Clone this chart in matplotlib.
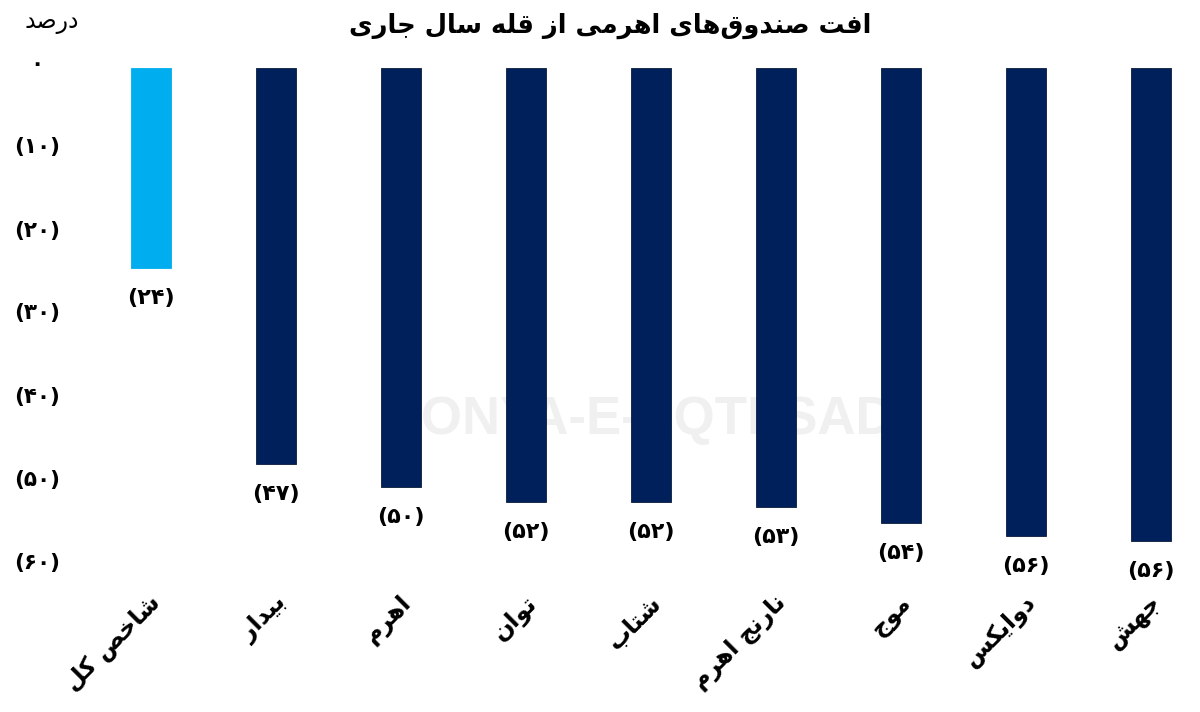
import matplotlib
matplotlib.use("Agg")
import matplotlib.pyplot as plt
from matplotlib import font_manager, ft2font
from matplotlib.font_manager import FontProperties
import matplotlib.patheffects as pe

# ---------------- data ----------------
categories = ["شاخص کل", "بیدار", "اهرم", "توان", "شتاب", "نارنج اهرم", "موج", "دوایکس", "جهش"]
values = [24.1, 47.8, 50.5, 52.3, 52.3, 53.0, 54.9, 56.5, 57.1]   # drawdown, percent
value_labels = [24, 47, 50, 52, 52, 53, 54, 56, 56]
yticks = [0, 10, 20, 30, 40, 50, 60]
title = "افت صندوق‌های اهرمی از قله سال جاری"
unit_label = "درصد"
bar_colors = ["#00AEEF"] + ["#00205B"] * 8
edge_colors = ["#00AEEF"] + ["#0a1a3a"] * 8

# ---------------- minimal Persian shaping ----------------
# (isolated, final, initial, medial)
FORMS = {
    'ا': ('\uFE8D', '\uFE8E', None, None),
    'آ': ('\uFE81', '\uFE82', None, None),
    'ب': ('\uFE8F', '\uFE90', '\uFE91', '\uFE92'),
    'پ': ('\uFB56', '\uFB57', '\uFB58', '\uFB59'),
    'ت': ('\uFE95', '\uFE96', '\uFE97', '\uFE98'),
    'ث': ('\uFE99', '\uFE9A', '\uFE9B', '\uFE9C'),
    'ج': ('\uFE9D', '\uFE9E', '\uFE9F', '\uFEA0'),
    'چ': ('\uFB7A', '\uFB7B', '\uFB7C', '\uFB7D'),
    'ح': ('\uFEA1', '\uFEA2', '\uFEA3', '\uFEA4'),
    'خ': ('\uFEA5', '\uFEA6', '\uFEA7', '\uFEA8'),
    'د': ('\uFEA9', '\uFEAA', None, None),
    'ذ': ('\uFEAB', '\uFEAC', None, None),
    'ر': ('\uFEAD', '\uFEAE', None, None),
    'ز': ('\uFEAF', '\uFEB0', None, None),
    'ژ': ('\uFB8A', '\uFB8B', None, None),
    'س': ('\uFEB1', '\uFEB2', '\uFEB3', '\uFEB4'),
    'ش': ('\uFEB5', '\uFEB6', '\uFEB7', '\uFEB8'),
    'ص': ('\uFEB9', '\uFEBA', '\uFEBB', '\uFEBC'),
    'ض': ('\uFEBD', '\uFEBE', '\uFEBF', '\uFEC0'),
    'ط': ('\uFEC1', '\uFEC2', '\uFEC3', '\uFEC4'),
    'ظ': ('\uFEC5', '\uFEC6', '\uFEC7', '\uFEC8'),
    'ع': ('\uFEC9', '\uFECA', '\uFECB', '\uFECC'),
    'غ': ('\uFECD', '\uFECE', '\uFECF', '\uFED0'),
    'ف': ('\uFED1', '\uFED2', '\uFED3', '\uFED4'),
    'ق': ('\uFED5', '\uFED6', '\uFED7', '\uFED8'),
    'ک': ('\uFB8E', '\uFB8F', '\uFB90', '\uFB91'),
    'گ': ('\uFB92', '\uFB93', '\uFB94', '\uFB95'),
    'ل': ('\uFEDD', '\uFEDE', '\uFEDF', '\uFEE0'),
    'م': ('\uFEE1', '\uFEE2', '\uFEE3', '\uFEE4'),
    'ن': ('\uFEE5', '\uFEE6', '\uFEE7', '\uFEE8'),
    'ه': ('\uFEE9', '\uFEEA', '\uFEEB', '\uFEEC'),
    'و': ('\uFEED', '\uFEEE', None, None),
    'ی': ('\uFBFC', '\uFBFD', '\uFBFE', '\uFBFF'),
}


def _dual(c):
    return c in FORMS and FORMS[c][2] is not None


def shape(text):
    chars = list(text)
    out = []
    i = 0
    n = len(chars)
    while i < n:
        c = chars[i]
        if c not in FORMS:
            if c != '\u200c':
                out.append(c)
            i += 1
            continue
        prev = chars[i - 1] if i > 0 else None
        joins_prev = prev is not None and _dual(prev)
        # lam-alef ligature
        if c == 'ل' and i + 1 < n and chars[i + 1] == 'ا':
            out.append('\uFEFC' if joins_prev else '\uFEFB')
            i += 2
            continue
        nxt = chars[i + 1] if i + 1 < n else None
        joins_next = _dual(c) and nxt is not None and nxt in FORMS
        iso, fin, ini, med = FORMS[c]
        if joins_prev and joins_next:
            g = med
        elif joins_prev:
            g = fin
        elif joins_next:
            g = ini
        else:
            g = iso
        out.append(g)
        i += 1
    return ''.join(reversed(out))


PDIG = '۰۱۲۳۴۵۶۷۸۹'


def pnum(v):
    return ''.join(PDIG[int(d)] for d in str(v))


# ---------------- font check ----------------
FAM = ['DejaVu Sans']
try:
    fb = ft2font.FT2Font(font_manager.findfont(FontProperties(family='DejaVu Sans', weight='bold')))
    bold_ok = fb.get_char_index(0xFEB5) != 0 and fb.get_char_index(0x06F4) != 0
except Exception:
    bold_ok = False


def bold_kw():
    if bold_ok:
        return dict(fontweight='bold')
    return dict(fontweight='normal', path_effects=[pe.withStroke(linewidth=1.2, foreground='black')])


# ---------------- figure ----------------
W, H = 1200, 712
fig = plt.figure(figsize=(W / 100, H / 100), dpi=100)
fig.patch.set_facecolor('white')

ax_left, ax_right = 88, 1190
ax_top, ax_bottom = 60, 585
ax = fig.add_axes([ax_left / W, 1 - ax_bottom / H, (ax_right - ax_left) / W, (ax_bottom - ax_top) / H])

px_per_unit_x = 125.0
x0_px = 151.0
ax.set_xlim(-(x0_px - ax_left) / px_per_unit_x, (ax_right - x0_px) / px_per_unit_x)
zero_px = 67.5
px_per_unit_y = 8.3
ax.set_ylim(-(ax_bottom - zero_px) / px_per_unit_y, (zero_px - ax_top) / px_per_unit_y)

xs = list(range(len(categories)))
neg = [-v for v in values]
ax.bar(xs, neg, width=0.32, color=bar_colors, edgecolor=edge_colors, linewidth=0.6, zorder=3)

for s in ax.spines.values():
    s.set_visible(False)

# watermark
ax.text(0.5, 0.314, "DONYA-E-EQTESAD", transform=ax.transAxes,
        ha='center', va='center', fontsize=38, fontweight='bold', family='Liberation Sans',
        color='#F0F0F0', zorder=1)

# y ticks
ax.set_yticks([-t for t in yticks])
ax.set_yticklabels([])
ax.tick_params(axis='y', length=0)
for t in yticks:
    lbl = pnum(t) if t == 0 else '(' + pnum(t) + ')'
    ax.annotate(lbl, xy=(0, -t), xycoords=('axes fraction', 'data'),
                xytext=(37 - ax_left, 3), textcoords='offset pixels',
                ha='center', va='center', fontsize=15.5, family=FAM, **bold_kw(), color='black')

# x labels
ax.set_xticks(xs)
ax.set_xticklabels([])
ax.tick_params(axis='x', length=0)
for x, cat in zip(xs, categories):
    ax.annotate(shape(cat), xy=(x, 0), xycoords=('data', 'axes fraction'),
                xytext=(-2, -6), textcoords='offset pixels',
                rotation=45, rotation_mode='anchor', ha='right', va='top',
                fontsize=17, family=FAM, **bold_kw(), color='black')

# value labels
for x, v, lbl in zip(xs, neg, value_labels):
    ax.annotate('(' + pnum(lbl) + ')', xy=(x, v), xytext=(0, -20), textcoords='offset pixels',
                ha='center', va='top', fontsize=16, family=FAM, **bold_kw(), color='black')

# title and unit
fig.text(610 / W, 1 - 26 / H, shape(title), ha='center', va='center', fontsize=18.5,
         family=FAM, **bold_kw(), color='black')
fig.text(52 / W, 1 - 22 / H, shape(unit_label), ha='center', va='center', fontsize=17,
         family=FAM, color='black')

fig.savefig('out.png', dpi=100, facecolor='white')
